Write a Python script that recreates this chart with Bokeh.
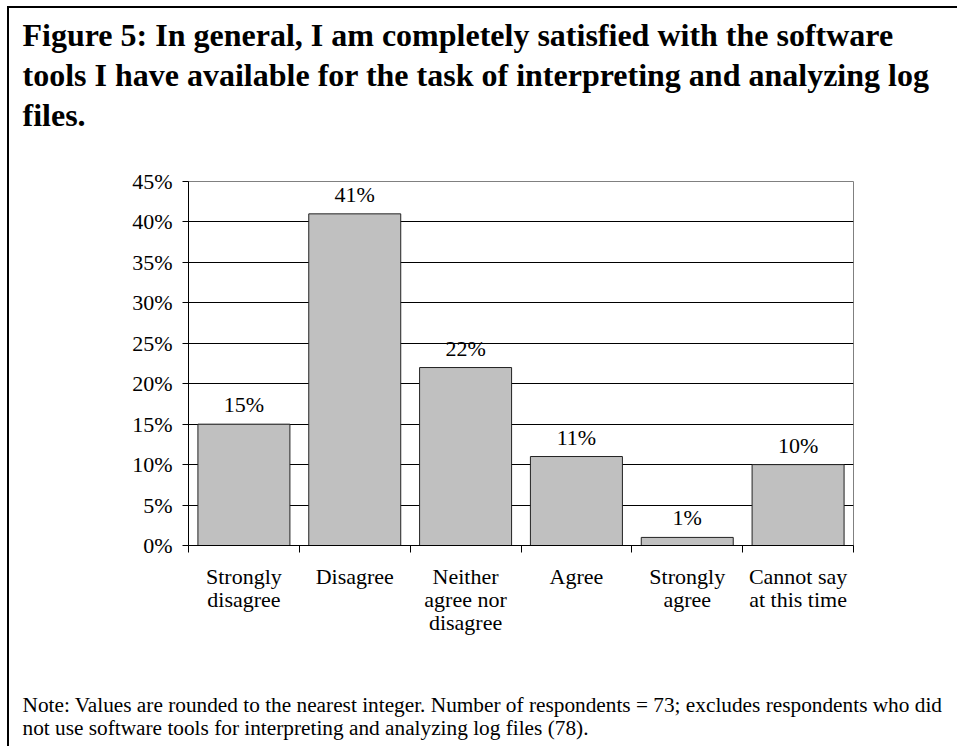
from bokeh.plotting import figure
from bokeh.models import (FixedTicker, PrintfTickFormatter, LabelSet,
                          ColumnDataSource, Range1d, Title)
from bokeh.embed import file_html
from bokeh.resources import INLINE

# ---- data ----
categories = ["Strongly\ndisagree", "Disagree", "Neither\nagree nor\ndisagree",
              "Agree", "Strongly\nagree", "Cannot say\nat this time"]
values = [15, 41, 22, 11, 1, 10]
value_labels = ["15%", "41%", "22%", "11%", "1%", "10%"]
y_ticks = [0, 5, 10, 15, 20, 25, 30, 35, 40, 45]
title_lines = [
    "Figure 5: In general, I am completely satisfied with the software",
    "tools I have available for the task of interpreting and analyzing log",
    "files.",
]
note_lines = [
    "Note: Values are rounded to the nearest integer. Number of respondents = 73; excludes respondents who did",
    "not use software tools for interpreting and analyzing log files (78).",
]

FONT = "Liberation Serif"
FL, FW, FH = 179, 665, 364
W = 948
TEXT_X = 13  # text left edge, canvas px

centers = [i + 0.5 for i in range(len(categories))]
src = ColumnDataSource(dict(x=centers, top=values, lab=value_labels))

p = figure(frame_width=FW, frame_height=FH, output_backend="svg", toolbar_location=None,
           x_range=Range1d(0, len(categories)), y_range=Range1d(0, 45),
           min_border_left=FL, min_border_right=W - FL - FW,
           min_border_top=0, min_border_bottom=0)
p.styles = {"margin-left": "7px", "margin-top": "6px",
            "border-left": "2px solid black", "border-top": "2px solid black"}

p.vbar(x="x", top="top", width=0.83, source=src, fill_color="#C0C0C0",
       line_color="#222222", line_width=1)

p.add_layout(LabelSet(x="x", y="top", text="lab", source=src, y_offset=12,
                      text_align="center", text_baseline="alphabetic",
                      text_font=FONT, text_font_size="22px", text_color="black"))

# x axis: labels at centers, ticks at category boundaries
p.xaxis.ticker = FixedTicker(ticks=centers, minor_ticks=list(range(len(categories) + 1)))
p.xaxis.major_label_overrides = {c: lab for c, lab in zip(centers, categories)}
p.xaxis.major_tick_out = 0
p.xaxis.major_tick_in = 0
p.xaxis.minor_tick_out = 7
p.xaxis.minor_tick_in = 0
p.xaxis.minor_tick_line_color = "black"
p.xaxis.axis_line_color = "black"
p.xaxis.major_label_text_font = FONT
p.xaxis.major_label_text_font_size = "22px"
p.xaxis.major_label_text_color = "black"
p.xaxis.major_label_text_line_height = 0.92
p.xaxis.major_label_standoff = 11

p.yaxis.ticker = FixedTicker(ticks=y_ticks, minor_ticks=[])
p.yaxis.formatter = PrintfTickFormatter(format="%d%%")
p.yaxis.major_tick_out = 6
p.yaxis.major_tick_in = 0
p.yaxis.major_tick_line_color = "black"
p.yaxis.axis_line_color = "black"
p.yaxis.major_label_text_font = FONT
p.yaxis.major_label_text_font_size = "22px"
p.yaxis.major_label_text_color = "black"
p.yaxis.major_label_standoff = 10

p.xgrid.grid_line_color = None
p.ygrid.ticker = FixedTicker(ticks=y_ticks[:-1], minor_ticks=[])
p.ygrid.grid_line_color = "black"
p.ygrid.grid_line_width = 1
p.outline_line_color = "#808080"
p.outline_line_width = 1


def spacer(gap, side):
    p.add_layout(Title(text=" ", align="left", standoff=gap, text_font_size="1px"), side)


def text_title(t, gap, size, style, side):
    try:
        ttl = Title(text=t, align="left", offset=TEXT_X - FL, standoff=gap,
                    text_font=FONT, text_font_size=size,
                    text_font_style=style, text_color="black")
    except Exception:
        ttl = Title(text=t, align="left", offset=TEXT_X - FL, standoff=0,
                    text_font=FONT, text_font_size=size,
                    text_font_style=style, text_color="black")
    p.add_layout(ttl, side)


# above panel: listed from the frame outwards
spacer(44.6, "above")
for t in reversed(title_lines):
    text_title(t, 1.6, "32px", "bold", "above")
spacer(2, "above")

# below panel: after the x axis
spacer(52.3, "below")
for t in note_lines:
    text_title(t, -2.6, "21.3px", "normal", "below")
spacer(11, "below")

open("out.html", "w").write(file_html(p, INLINE))
